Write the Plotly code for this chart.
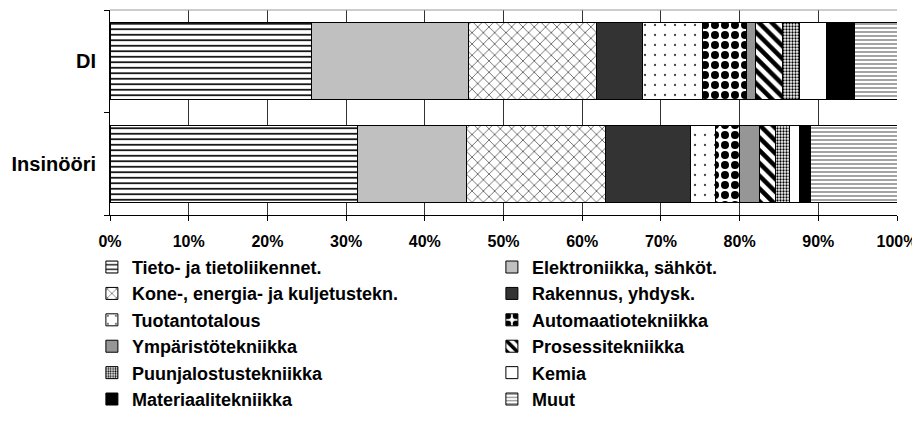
import plotly.graph_objects as go

categories = ["DI", "Insinööri"]
series_names = [
    "Tieto- ja tietoliikennet.",
    "Elektroniikka, sähköt.",
    "Kone-, energia- ja kuljetustekn.",
    "Rakennus, yhdysk.",
    "Tuotantotalous",
    "Automaatiotekniikka",
    "Ympäristötekniikka",
    "Prosessitekniikka",
    "Puunjalostustekniikka",
    "Kemia",
    "Materiaalitekniikka",
    "Muut",
]
di_values = [25.6, 19.9, 16.3, 5.8, 7.7, 5.6, 1.1, 3.4, 2.2, 3.4, 3.6, 5.4]
ins_values = [31.4, 13.9, 17.7, 10.7, 3.2, 3.1, 2.5, 2.1, 1.7, 1.3, 1.4, 11.0]

styles = [
    dict(color="white", pattern=dict(shape="-", fgcolor="black", bgcolor="white", size=5.5, solidity=0.3)),
    dict(color="#c0c0c0"),
    dict(color="white", pattern=dict(shape="x", fgcolor="#222222", bgcolor="white", size=8, solidity=0.15)),
    dict(color="#333333"),
    dict(color="white", pattern=dict(shape=".", fgcolor="#444444", bgcolor="white", size=10, solidity=0.04)),
    dict(color="white", pattern=dict(shape=".", fgcolor="black", bgcolor="white", size=10, solidity=0.5)),
    dict(color="#969696"),
    dict(color="white", pattern=dict(shape="\\", fgcolor="black", bgcolor="white", size=9, solidity=0.5)),
    dict(color="white", pattern=dict(shape=".", fgcolor="black", bgcolor="white", size=3, solidity=0.45)),
    dict(color="white"),
    dict(color="black"),
    dict(color="white", pattern=dict(shape="-", fgcolor="#666666", bgcolor="white", size=4, solidity=0.3)),
]

fig = go.Figure()
for i, name in enumerate(series_names):
    st = styles[i]
    marker = dict(color=st["color"], line=dict(color="black", width=1))
    if "pattern" in st:
        pat = dict(st["pattern"])
        pat["fgopacity"] = 1
        marker["pattern"] = pat
    fig.add_trace(go.Bar(
        name="<b>" + name + "</b>",
        y=categories,
        x=[di_values[i] / 100.0, ins_values[i] / 100.0],
        orientation="h",
        marker=marker,
    ))

font_family = "Liberation Sans, Arial, sans-serif"

# page body adds an 8px margin, so the figure is 8px smaller than the window
fig.update_layout(
    width=912,
    height=424,
    barmode="stack",
    bargap=0.247,
    plot_bgcolor="white",
    paper_bgcolor="white",
    margin=dict(l=102, r=23, t=2, b=217),
    font=dict(family=font_family, size=16, color="black", weight="bold"),
    legend=dict(
        orientation="h",
        x=-0.023,
        xanchor="left",
        y=-0.165,
        yanchor="top",
        entrywidth=355,
        entrywidthmode="pixels",
        itemwidth=30,
        traceorder="normal",
        font=dict(family=font_family, size=18, color="black", weight="bold"),
    ),
    xaxis=dict(
        range=[0, 1],
        dtick=0.1,
        tick0=0,
        tickformat=".0%",
        showgrid=True,
        gridcolor="#333333",
        gridwidth=1,
        showline=True,
        linecolor="black",
        linewidth=1,
        ticks="outside",
        ticklen=5,
        tickcolor="black",
        ticklabelstandoff=7,
        zeroline=False,
        automargin=False,
        tickfont=dict(family=font_family, size=16, color="black", weight="bold"),
    ),
    yaxis=dict(
        categoryorder="array",
        categoryarray=categories[::-1],
        showline=True,
        linecolor="black",
        linewidth=1,
        ticks="outside",
        tickson="boundaries",
        ticklen=5,
        tickcolor="black",
        showgrid=False,
        ticklabelstandoff=9,
        automargin=False,
        tickfont=dict(family=font_family, size=20, color="black", weight="bold"),
    ),
    shapes=[
        dict(type="line", xref="paper", yref="paper", x0=0, x1=1, y0=1, y1=1,
             line=dict(color="#999999", width=1)),
    ],
)

fig.write_html("out.html")
